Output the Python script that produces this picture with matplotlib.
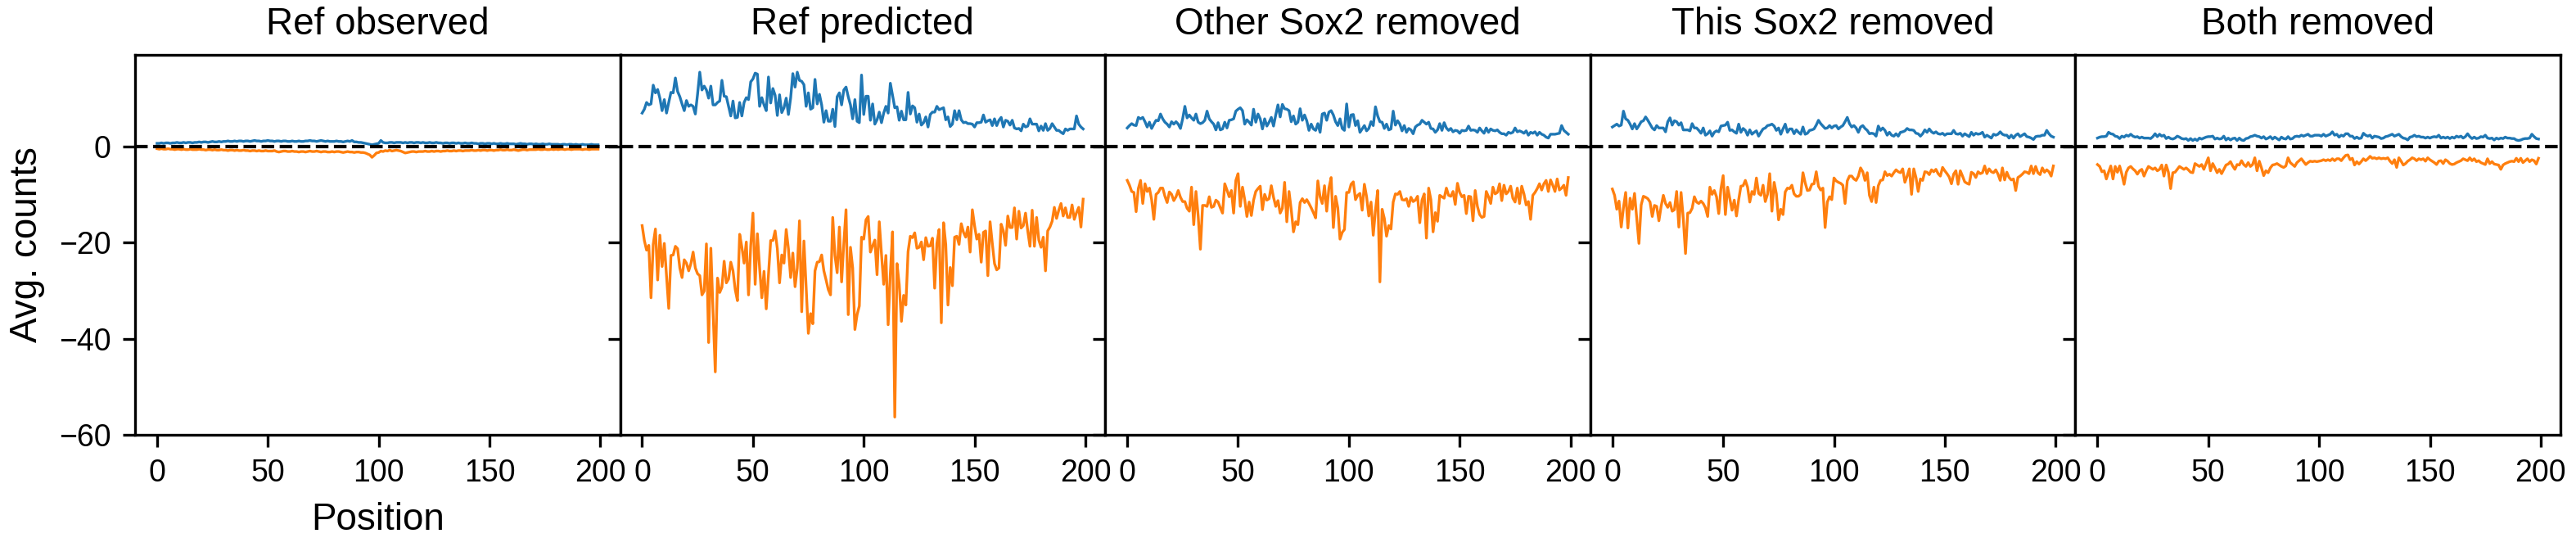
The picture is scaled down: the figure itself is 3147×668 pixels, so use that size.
import numpy as np
import matplotlib
matplotlib.use("Agg")
import matplotlib.pyplot as plt

plt.rcParams['font.family'] = ['Liberation Sans', 'DejaVu Sans']

titles = ["Ref observed", "Ref predicted", "Other Sox2 removed",
          "This Sox2 removed", "Both removed"]

# avg. counts per position, positive (blue) and negative (orange) strand
ref_obs_pos = [
    0.6, 0.6, 0.7, 0.6, 0.7, 0.7, 0.6, 0.7, 0.7, 0.8,
    0.7, 0.7, 0.8, 0.7, 0.8, 0.8, 0.7, 0.8, 0.8, 0.9,
    0.8, 0.9, 0.9, 0.8, 0.9, 1.0, 0.9, 0.9, 1.0, 0.9,
    1.0, 1.0, 1.1, 1.0, 1.0, 1.1, 1.0, 1.1, 1.1, 1.0,
    1.1, 1.1, 1.0, 1.1, 1.2, 1.1, 1.1, 1.0, 1.1, 1.1,
    1.2, 1.1, 1.1, 1.0, 1.1, 1.1, 1.0, 1.1, 1.1, 1.0,
    1.0, 1.1, 1.0, 1.0, 1.1, 1.0, 1.0, 1.1, 1.1, 1.2,
    1.1, 1.1, 1.0, 1.1, 1.2, 1.1, 1.0, 1.1, 1.0, 1.0,
    1.0, 1.1, 1.0, 1.0, 0.9, 1.0, 1.1, 1.0, 1.2, 0.9,
    0.9, 0.8, 0.8, 0.7, 0.6, 0.5, 0.4, 0.3, 0.4, 0.5,
    0.6, 1.2, 0.8, 0.7, 0.7, 0.8, 0.8, 0.7, 0.8, 0.8,
    0.8, 0.7, 0.8, 0.7, 0.8, 0.8, 0.7, 0.8, 0.8, 0.7,
    0.8, 0.7, 0.7, 0.8, 0.7, 0.7, 0.8, 0.7, 0.7, 0.6,
    0.7, 0.7, 0.6, 0.7, 0.7, 0.6, 0.7, 0.6, 0.6, 0.7,
    0.6, 0.6, 0.7, 0.6, 0.6, 0.5, 0.6, 0.6, 0.5, 0.6,
    0.6, 0.5, 0.6, 0.5, 0.5, 0.6, 0.5, 0.5, 0.6, 0.5,
    0.5, 0.5, 0.4, 0.5, 0.6, 0.5, 0.5, 0.4, 0.5, 0.5,
    0.4, 0.5, 0.4, 0.4, 0.5, 0.4, 0.4, 0.5, 0.4, 0.4,
    0.4, 0.4, 0.3, 0.4, 0.4, 0.3, 0.4, 0.4, 0.3, 0.4,
    0.3, 0.3, 0.4, 0.3, 0.3, 0.3, 0.4, 0.3, 0.3, 0.3,
]
ref_obs_neg = [
    -0.5, -0.6, -0.5, -0.6, -0.6, -0.5, -0.6, -0.6, -0.7, -0.6,
    -0.6, -0.7, -0.6, -0.7, -0.7, -0.6, -0.7, -0.7, -0.7, -0.6,
    -0.7, -0.7, -0.8, -0.7, -0.7, -0.8, -0.7, -0.8, -0.8, -0.7,
    -0.8, -0.8, -0.9, -0.8, -0.8, -0.9, -0.8, -0.9, -0.9, -0.8,
    -0.9, -0.9, -1.0, -0.9, -0.9, -1.0, -0.9, -1.0, -1.0, -0.9,
    -1.0, -1.0, -1.0, -0.9, -1.1, -1.2, -1.1, -1.0, -1.0, -1.1,
    -1.1, -1.0, -1.1, -1.1, -1.2, -1.1, -1.1, -1.2, -1.1, -1.0,
    -1.1, -1.1, -1.0, -1.1, -1.2, -1.1, -1.1, -1.2, -1.2, -1.1,
    -1.2, -1.1, -1.1, -1.2, -1.3, -1.2, -1.1, -1.2, -1.2, -1.3,
    -1.2, -1.2, -1.3, -1.3, -1.4, -1.6, -1.8, -2.3, -1.9, -1.4,
    -1.3, -1.0, -1.1, -0.9, -1.0, -0.8, -1.0, -0.9, -0.8, -0.9,
    -1.0, -1.2, -1.4, -1.3, -1.2, -1.1, -1.1, -1.2, -1.1, -1.1,
    -1.1, -1.0, -1.1, -1.1, -1.0, -1.1, -1.0, -1.0, -1.1, -1.0,
    -1.0, -0.9, -1.0, -1.0, -0.9, -1.0, -0.9, -0.9, -1.0, -0.9,
    -0.9, -0.9, -0.8, -0.9, -0.9, -0.8, -0.9, -0.8, -0.8, -0.9,
    -0.8, -0.8, -0.9, -0.8, -0.8, -0.7, -0.8, -0.8, -0.7, -0.8,
    -0.8, -0.7, -0.8, -0.9, -0.8, -0.7, -0.7, -0.8, -0.7, -0.7,
    -0.7, -0.7, -0.6, -0.7, -0.7, -0.6, -0.7, -0.7, -0.6, -0.7,
    -0.6, -0.7, -0.6, -0.6, -0.7, -0.6, -0.6, -0.7, -0.6, -0.6,
    -0.6, -0.6, -0.7, -0.6, -0.6, -0.7, -0.6, -0.6, -0.6, -0.6,
]

ref_pred_pos = [
    6.9, 7.7, 9.1, 8.6, 8.8, 12.7, 11.1, 11.8, 10.0, 7.4,
    9.7, 6.9, 9.1, 11.2, 11.1, 14.2, 11.4, 10.3, 8.8, 7.4,
    9.5, 8.3, 8.6, 8.3, 6.7, 10.8, 15.4, 11.7, 12.5, 11.7,
    10.0, 12.5, 8.6, 8.6, 9.1, 9.4, 13.7, 10.4, 10.3, 8.3,
    6.3, 9.4, 5.9, 6.0, 9.1, 6.3, 9.1, 10.1, 9.7, 13.4,
    14.0, 15.2, 15.0, 8.3, 10.1, 8.6, 7.4, 14.4, 9.0, 12.0,
    10.6, 6.4, 10.7, 7.0, 8.0, 10.0, 6.6, 10.0, 15.1, 12.3,
    15.4, 13.7, 13.5, 12.8, 8.3, 11.1, 7.7, 8.0, 13.9, 8.8,
    10.8, 8.6, 5.0, 7.4, 5.2, 5.2, 7.7, 4.1, 10.3, 11.1,
    8.6, 11.7, 12.3, 10.3, 8.6, 5.7, 9.7, 5.2, 4.9, 14.8,
    6.6, 10.4, 10.4, 5.4, 8.8, 4.6, 5.5, 7.1, 4.9, 6.9,
    8.3, 6.9, 13.1, 10.6, 8.0, 8.2, 5.4, 7.3, 5.5, 5.5,
    11.2, 6.7, 8.4, 8.0, 5.0, 6.7, 4.4, 4.9, 6.1, 4.0,
    6.6, 7.1, 7.1, 8.3, 7.6, 7.8, 8.0, 5.5, 6.1, 4.1,
    4.6, 7.4, 5.5, 7.4, 5.5, 4.9, 5.0, 4.7, 4.7, 4.6,
    4.0, 4.9, 4.9, 5.0, 6.5, 5.0, 5.3, 5.5, 4.3, 5.7,
    4.3, 5.4, 6.0, 4.0, 5.4, 5.2, 4.4, 5.4, 3.8, 3.6,
    3.7, 3.2, 4.6, 4.0, 4.2, 5.7, 4.6, 4.6, 4.6, 3.2,
    4.2, 3.3, 4.7, 3.3, 3.7, 4.7, 4.0, 3.3, 3.3, 2.9,
    2.6, 3.6, 3.3, 3.6, 3.6, 3.6, 6.3, 4.6, 4.0, 3.6,
]
ref_pred_neg = [
    -16.5, -19.6, -21.6, -20.6, -31.5, -20.4, -17.2, -27.8, -18.5, -25.0,
    -20.2, -27.0, -33.7, -22.7, -22.6, -20.8, -21.3, -25.3, -27.3, -23.6,
    -24.3, -25.9, -24.4, -22.0, -25.3, -26.5, -26.9, -30.9, -30.1, -20.3,
    -40.8, -21.2, -34.4, -46.9, -27.4, -30.4, -29.3, -23.9, -28.4, -27.6,
    -24.1, -25.9, -29.8, -32.1, -18.3, -21.0, -24.3, -19.9, -30.9, -20.7,
    -13.9, -28.7, -18.2, -25.3, -31.5, -26.0, -33.8, -26.7, -19.6, -19.6,
    -17.6, -21.3, -28.4, -22.6, -24.3, -17.3, -21.3, -27.3, -22.2, -29.2,
    -25.3, -15.5, -34.4, -19.7, -29.3, -38.9, -34.8, -36.9, -25.9, -24.1,
    -24.0, -22.6, -25.9, -27.8, -29.8, -30.9, -14.8, -22.7, -26.3, -16.8,
    -28.2, -20.2, -13.2, -35.0, -21.0, -25.3, -38.1, -35.0, -33.2, -18.9,
    -19.3, -15.3, -14.6, -22.0, -20.7, -19.5, -26.7, -15.7, -22.4, -28.7,
    -22.7, -37.1, -26.4, -17.8, -56.3, -24.4, -28.7, -36.4, -31.0, -33.0,
    -21.9, -18.7, -19.0, -18.0, -21.2, -21.0, -19.9, -23.6, -19.0, -20.8,
    -20.7, -19.1, -29.5, -20.2, -17.3, -36.7, -15.9, -20.4, -33.0, -25.2,
    -29.0, -18.9, -18.7, -20.4, -16.1, -17.9, -18.9, -16.8, -22.0, -13.2,
    -16.5, -19.3, -18.3, -24.1, -17.9, -17.6, -26.9, -15.7, -20.2, -24.4,
    -25.7, -25.3, -16.2, -17.6, -20.6, -14.5, -16.9, -16.9, -12.8, -19.3,
    -13.5, -17.0, -16.5, -13.9, -17.6, -20.8, -13.3, -20.8, -14.8, -19.5,
    -21.0, -18.9, -25.9, -17.6, -16.8, -15.6, -12.7, -15.0, -13.3, -11.9,
    -14.5, -12.8, -14.8, -14.8, -12.2, -15.2, -13.8, -12.7, -16.8, -11.0,
]

other_rm_pos = [
    3.8, 4.3, 4.7, 4.4, 4.3, 6.0, 5.7, 6.0, 5.1, 4.0,
    5.0, 3.7, 4.6, 5.4, 5.3, 6.7, 5.7, 5.0, 4.6, 4.0,
    5.1, 4.6, 5.1, 4.6, 3.7, 5.7, 8.3, 5.9, 6.5, 5.9,
    5.4, 6.7, 5.0, 4.7, 4.9, 5.4, 7.3, 5.7, 5.1, 4.6,
    3.4, 4.9, 3.4, 3.6, 5.0, 3.8, 5.4, 5.5, 5.7, 7.3,
    7.7, 8.0, 7.4, 4.6, 5.5, 5.0, 4.4, 7.7, 5.0, 6.7,
    5.7, 3.6, 5.7, 4.2, 5.0, 6.0, 4.2, 6.5, 8.6, 6.1,
    8.7, 7.8, 7.7, 7.4, 5.1, 6.3, 4.6, 5.0, 7.8, 5.4,
    6.5, 5.3, 3.3, 4.6, 3.6, 3.3, 4.7, 2.9, 6.7, 6.9,
    5.4, 7.1, 7.4, 6.5, 5.1, 4.3, 5.7, 3.7, 3.3, 8.8,
    4.0, 6.5, 6.6, 4.3, 5.3, 2.9, 3.6, 4.3, 3.2, 3.7,
    5.1, 4.3, 8.2, 6.3, 5.1, 5.0, 3.7, 4.6, 3.4, 3.6,
    7.3, 4.4, 5.3, 4.6, 3.2, 4.3, 2.9, 3.7, 3.4, 2.6,
    4.0, 4.4, 4.6, 5.4, 5.0, 4.6, 5.0, 3.7, 3.6, 2.9,
    3.4, 4.7, 3.3, 4.9, 3.8, 3.3, 3.7, 3.0, 3.3, 3.2,
    2.7, 3.3, 3.2, 3.3, 4.2, 3.3, 3.4, 3.3, 2.9, 3.8,
    3.2, 2.7, 3.8, 2.9, 3.6, 3.3, 3.2, 3.4, 2.9, 2.6,
    2.6, 2.3, 2.9, 2.7, 2.9, 3.8, 3.0, 3.2, 3.0, 2.7,
    3.2, 2.3, 2.9, 2.7, 3.0, 2.3, 2.9, 2.5, 2.3, 1.9,
    1.7, 2.5, 2.5, 2.5, 2.6, 2.7, 4.3, 3.3, 2.9, 2.5,
]
other_rm_neg = [
    -7.1, -8.1, -9.4, -9.6, -13.6, -8.8, -7.1, -11.9, -7.8, -9.4,
    -8.7, -11.1, -15.2, -10.0, -9.6, -8.7, -8.7, -10.4, -11.7, -9.5,
    -10.0, -11.3, -10.5, -9.2, -10.6, -11.5, -11.5, -12.9, -13.5, -8.5,
    -16.3, -9.4, -14.5, -21.4, -12.3, -12.3, -12.5, -10.5, -12.7, -12.5,
    -11.2, -11.6, -12.8, -13.9, -7.8, -9.1, -10.5, -9.2, -13.9, -7.1,
    -5.7, -12.5, -8.5, -11.1, -14.6, -11.6, -14.4, -11.2, -9.4, -8.8,
    -8.3, -13.2, -10.0, -11.2, -10.9, -8.2, -10.6, -12.5, -11.3, -13.9,
    -12.9, -7.5, -15.7, -9.4, -13.2, -17.8, -15.7, -16.3, -11.7, -10.9,
    -11.7, -11.1, -11.9, -12.8, -13.8, -14.9, -7.2, -10.5, -11.9, -8.2,
    -13.5, -8.7, -6.5, -16.9, -10.4, -12.8, -19.3, -17.9, -17.3, -9.6,
    -9.6, -7.9, -7.4, -11.1, -10.2, -9.8, -13.3, -7.9, -10.5, -14.5,
    -11.6, -18.5, -13.3, -9.2, -28.2, -13.1, -15.0, -18.7, -16.5, -17.2,
    -11.6, -9.9, -10.0, -9.4, -11.1, -11.2, -10.9, -12.5, -10.6, -11.5,
    -11.2, -10.4, -15.9, -11.2, -9.9, -19.1, -8.7, -11.1, -17.8, -13.8,
    -15.6, -10.2, -10.5, -10.8, -8.7, -10.2, -10.4, -9.4, -12.1, -7.7,
    -9.6, -10.5, -10.2, -14.0, -10.4, -10.5, -15.5, -9.2, -12.5, -14.2,
    -14.8, -14.6, -9.4, -10.5, -11.9, -8.5, -9.9, -9.6, -7.8, -11.3,
    -8.1, -9.9, -9.4, -8.3, -10.8, -11.6, -8.7, -11.9, -8.3, -9.9,
    -12.2, -11.5, -15.2, -10.2, -9.6, -8.8, -7.8, -9.1, -7.8, -7.1,
    -9.4, -7.0, -8.1, -9.4, -6.8, -9.1, -8.7, -8.1, -10.2, -6.5,
]

this_rm_pos = [
    4.0, 4.3, 4.6, 4.2, 4.4, 7.3, 5.7, 5.4, 4.6, 3.6,
    4.7, 3.6, 4.3, 5.1, 5.3, 6.1, 5.4, 4.6, 3.8, 3.4,
    4.3, 3.8, 3.8, 3.8, 3.0, 5.1, 5.9, 4.4, 5.3, 5.1,
    4.4, 4.9, 3.4, 3.4, 3.4, 3.2, 4.7, 3.8, 3.8, 3.3,
    2.7, 3.8, 2.3, 2.6, 3.2, 2.1, 2.9, 3.2, 3.0, 4.2,
    4.3, 4.4, 5.0, 3.3, 3.4, 3.0, 2.7, 4.6, 2.9, 3.7,
    3.3, 2.3, 3.4, 2.5, 2.9, 3.2, 2.1, 2.9, 3.6, 3.8,
    4.3, 4.4, 4.6, 4.2, 3.3, 3.8, 2.5, 3.6, 4.6, 2.9,
    3.6, 3.6, 2.6, 3.4, 2.9, 2.5, 4.0, 2.5, 2.7, 3.3,
    3.4, 3.6, 4.4, 5.4, 4.7, 4.2, 3.7, 3.8, 4.3, 3.8,
    4.2, 4.3, 3.6, 4.0, 4.3, 5.1, 6.0, 4.7, 4.0, 4.3,
    3.8, 2.9, 4.0, 4.3, 3.7, 3.3, 2.6, 2.7, 2.6, 2.1,
    4.2, 3.3, 3.8, 3.3, 2.3, 2.9, 2.3, 2.1, 2.6, 2.1,
    2.9, 3.0, 3.2, 3.7, 3.4, 3.4, 3.3, 2.7, 2.6, 2.1,
    2.6, 3.4, 2.9, 3.6, 3.0, 2.7, 3.0, 2.6, 2.5, 2.7,
    2.3, 2.6, 2.6, 2.6, 3.3, 2.6, 2.5, 2.7, 2.1, 2.6,
    2.3, 2.0, 2.9, 2.3, 2.7, 2.5, 2.6, 2.9, 1.9, 2.3,
    2.0, 1.7, 2.5, 2.3, 2.5, 3.0, 2.5, 2.3, 2.3, 1.7,
    2.3, 1.7, 2.3, 2.6, 2.0, 2.3, 2.6, 2.0, 1.9, 1.7,
    1.4, 2.0, 2.1, 2.1, 2.3, 2.3, 3.3, 2.6, 2.1, 1.9,
]
this_rm_neg = [
    -8.9, -10.2, -13.1, -11.4, -16.8, -12.8, -9.6, -17.0, -10.8, -13.1,
    -9.8, -15.0, -20.2, -12.2, -10.4, -10.6, -10.9, -11.6, -14.6, -12.3,
    -12.5, -15.5, -12.5, -10.2, -11.9, -12.7, -11.7, -13.5, -13.2, -9.4,
    -16.8, -9.6, -15.0, -22.3, -13.9, -13.8, -12.9, -10.5, -11.6, -11.9,
    -11.4, -11.9, -12.8, -14.6, -8.5, -10.0, -9.2, -10.5, -14.0, -8.8,
    -6.1, -14.2, -8.5, -10.9, -13.3, -11.2, -14.5, -11.1, -8.3, -8.2,
    -7.1, -8.5, -11.6, -9.4, -10.0, -6.6, -9.8, -10.2, -8.1, -11.5,
    -10.0, -5.7, -13.5, -7.5, -9.9, -15.3, -13.1, -14.2, -9.5, -8.7,
    -8.8, -8.1, -9.9, -10.4, -10.4, -10.0, -5.5, -7.6, -9.2, -9.1,
    -7.9, -7.8, -5.3, -8.3, -9.1, -8.7, -16.9, -11.6, -10.5, -11.1,
    -6.6, -7.2, -7.5, -7.7, -8.1, -11.9, -7.2, -6.2, -6.2, -6.8,
    -7.1, -6.2, -4.5, -5.3, -7.1, -5.5, -10.2, -11.5, -8.5, -11.7,
    -8.2, -7.1, -7.0, -5.3, -6.1, -5.8, -6.2, -5.5, -4.9, -5.3,
    -5.5, -4.7, -7.5, -6.2, -4.7, -10.0, -4.7, -6.5, -9.4, -6.8,
    -7.1, -5.3, -5.4, -5.9, -4.9, -5.3, -4.8, -5.7, -6.2, -4.4,
    -5.1, -5.7, -6.4, -7.8, -5.8, -5.1, -7.9, -5.1, -6.2, -7.4,
    -7.7, -7.9, -5.4, -5.7, -6.5, -5.3, -5.7, -5.5, -4.1, -5.7,
    -4.7, -5.3, -5.5, -4.9, -5.8, -7.1, -4.5, -7.0, -5.4, -6.5,
    -7.0, -6.8, -9.2, -6.5, -6.2, -5.8, -5.3, -5.4, -5.7, -4.1,
    -5.7, -4.2, -5.5, -5.9, -4.5, -5.4, -4.9, -5.3, -6.2, -4.1,
]

both_rm_pos = [
    1.7, 1.9, 2.0, 2.0, 2.1, 2.9, 2.6, 2.5, 2.1, 2.0,
    1.6, 2.1, 1.9, 2.3, 2.1, 2.5, 2.1, 1.9, 2.0, 1.7,
    1.9, 1.7, 1.7, 1.7, 1.6, 2.0, 2.6, 2.0, 2.5, 2.1,
    2.3, 1.6, 1.9, 1.6, 1.5, 1.7, 2.1, 1.9, 1.6, 1.5,
    1.6, 1.2, 1.6, 1.2, 1.5, 1.2, 1.7, 1.5, 1.7, 1.9,
    2.0, 2.0, 2.1, 1.5, 1.7, 1.5, 1.6, 2.1, 1.3, 1.7,
    1.3, 1.6, 1.7, 1.2, 1.7, 1.3, 1.2, 1.6, 1.7, 2.0,
    2.1, 2.3, 2.1, 2.0, 1.7, 2.0, 1.5, 1.7, 2.0, 1.5,
    1.9, 1.6, 1.3, 1.9, 1.6, 1.5, 2.0, 1.5, 1.6, 2.0,
    2.1, 2.0, 2.3, 2.1, 2.3, 2.5, 2.1, 2.1, 2.3, 2.3,
    2.3, 2.1, 2.5, 2.1, 2.3, 2.5, 3.0, 2.3, 2.5, 1.9,
    2.3, 2.1, 2.6, 2.6, 2.1, 2.1, 1.6, 1.9, 1.6, 1.7,
    2.7, 2.3, 2.1, 2.3, 1.7, 2.1, 2.0, 1.9, 1.6, 1.7,
    2.0, 2.1, 2.3, 2.5, 2.1, 2.3, 2.5, 2.0, 1.7, 1.6,
    1.3, 1.9, 2.0, 2.3, 2.0, 2.1, 1.9, 1.9, 1.7, 1.9,
    1.7, 1.9, 2.0, 1.9, 2.3, 1.7, 1.9, 1.7, 1.9, 1.6,
    1.9, 1.7, 2.1, 1.9, 2.1, 1.7, 2.0, 2.6, 2.0, 1.6,
    1.9, 1.6, 1.7, 2.0, 1.9, 2.3, 1.7, 1.6, 1.7, 1.3,
    1.7, 1.5, 1.7, 1.6, 1.9, 1.7, 1.7, 1.6, 1.6, 1.3,
    1.2, 1.3, 1.5, 1.6, 1.6, 1.7, 2.5, 2.0, 1.6, 1.5,
]
both_rm_neg = [
    -3.8, -4.2, -5.3, -5.1, -6.8, -5.4, -4.1, -6.8, -4.2, -5.4,
    -4.1, -5.8, -7.9, -5.4, -4.5, -4.2, -4.7, -5.1, -5.8, -5.1,
    -4.8, -6.2, -5.1, -4.2, -4.5, -4.8, -4.5, -5.1, -4.8, -3.9,
    -6.2, -3.9, -5.4, -8.8, -5.5, -5.4, -4.8, -4.2, -4.5, -4.8,
    -4.5, -4.9, -5.4, -5.5, -3.6, -3.9, -4.2, -3.8, -4.8, -3.6,
    -2.4, -5.1, -3.6, -4.5, -5.5, -4.8, -5.7, -4.8, -3.9, -3.7,
    -3.2, -4.1, -4.8, -3.8, -3.9, -3.0, -3.8, -4.2, -3.4, -4.2,
    -3.8, -2.4, -5.1, -3.1, -4.5, -6.1, -5.1, -5.5, -4.5, -3.9,
    -3.8, -3.6, -3.9, -4.2, -4.4, -4.1, -2.4, -3.4, -3.8, -4.2,
    -3.4, -3.0, -2.6, -3.2, -3.8, -3.4, -3.1, -3.2, -3.1, -3.2,
    -3.1, -3.0, -2.8, -3.0, -2.8, -3.0, -2.6, -3.0, -2.6, -2.6,
    -3.0, -2.4, -1.9, -1.8, -2.8, -2.5, -3.9, -3.2, -3.7, -3.2,
    -2.6, -3.0, -2.6, -2.1, -2.5, -2.4, -2.6, -2.4, -2.6, -2.5,
    -2.6, -2.4, -3.1, -3.6, -2.8, -4.4, -2.4, -3.1, -3.9, -3.6,
    -3.1, -2.8, -2.4, -2.6, -3.0, -2.6, -2.8, -2.6, -3.1, -2.4,
    -2.8, -3.1, -3.4, -3.8, -3.1, -3.0, -3.6, -2.8, -3.1, -3.6,
    -3.8, -3.7, -3.4, -3.2, -3.0, -2.6, -2.8, -3.0, -2.4, -3.0,
    -2.6, -3.2, -3.0, -3.4, -3.6, -3.8, -2.6, -3.6, -3.2, -3.7,
    -3.8, -3.9, -4.8, -3.9, -3.6, -3.4, -3.2, -3.1, -3.2, -2.5,
    -3.2, -2.5, -3.4, -3.0, -2.6, -3.2, -2.8, -3.0, -3.7, -2.5,
]

pos_series = [ref_obs_pos, ref_pred_pos, other_rm_pos, this_rm_pos, both_rm_pos]
neg_series = [ref_obs_neg, ref_pred_neg, other_rm_neg, this_rm_neg, both_rm_neg]
positions = np.arange(len(ref_obs_pos))

fig, axes = plt.subplots(1, 5, figsize=(10.49, 2.2267), dpi=300, sharey=True)
fig.subplots_adjust(left=0.0524, right=0.994, top=0.8997, bottom=0.205, wspace=0)

for ax, title, p, n in zip(axes, titles, pos_series, neg_series):
    ax.plot(positions, p, color='#1f77b4', lw=0.8)
    ax.plot(positions, n, color='#ff7f0e', lw=0.8)
    ax.axhline(0, color='black', ls='--', lw=1)
    ax.set_title(title, fontsize=11)
    ax.set_xticks([0, 50, 100, 150, 200])
    ax.tick_params(labelsize=9, width=0.8)
    for s in ax.spines.values():
        s.set_linewidth(0.8)

axes[0].set_ylim(-60, 19)
axes[0].set_yticks([-60, -40, -20, 0])
axes[0].set_ylabel('Avg. counts', fontsize=11)
axes[0].set_xlabel('Position', fontsize=11)

plt.savefig('out.png', dpi=300)
